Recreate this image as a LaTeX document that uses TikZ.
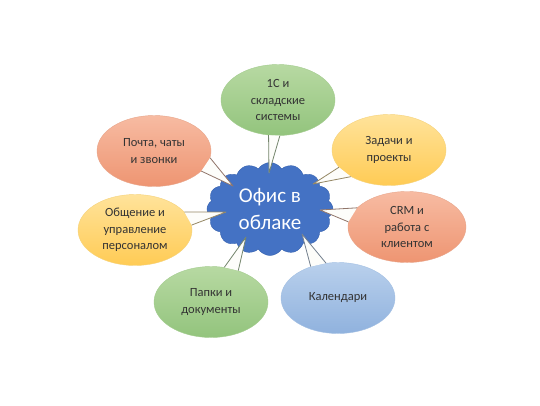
\documentclass[tikz,border=0pt]{standalone}
\usepackage{fontspec}
\setmainfont{Carlito}
\usetikzlibrary{shapes.geometric,shapes.symbols}

\definecolor{salmontop}{HTML}{F7BBA2}
\definecolor{salmonbot}{HTML}{EE9572}
\definecolor{salmonline}{HTML}{E8A58A}
\definecolor{greentop}{HTML}{B7D9A2}
\definecolor{greenbot}{HTML}{93C47D}
\definecolor{greenline}{HTML}{A3CC8E}
\definecolor{yellowtop}{HTML}{FFE39A}
\definecolor{yellowbot}{HTML}{FFCB55}
\definecolor{yellowline}{HTML}{F5D27A}
\definecolor{bluetop}{HTML}{B9D0EC}
\definecolor{bluebot}{HTML}{90B2DE}
\definecolor{blueline}{HTML}{A2BFE3}
\definecolor{cloudblue}{HTML}{4472C4}
\definecolor{cloudline}{HTML}{3460AE}
\definecolor{bubbletext}{HTML}{333333}
\definecolor{pointerfill}{HTML}{FDFDFA}

\begin{document}
\begin{tikzpicture}[x=1pt,y=-1pt,
	bubble/.style={ellipse, minimum width=114pt, minimum height=71pt, inner sep=1pt,
		align=center, text=bubbletext, font=\fontsize{12.5}{16.5}\selectfont, line width=0.4pt},
	salmon/.style={bubble, top color=salmontop, bottom color=salmonbot, draw=salmonline},
	green/.style={bubble, top color=greentop, bottom color=greenbot, draw=greenline},
	yellow/.style={bubble, top color=yellowtop, bottom color=yellowbot, draw=yellowline},
	blue/.style={bubble, top color=bluetop, bottom color=bluebot, draw=blueline}]

	\fill[white] (0,0) rectangle (540,405);
	\useasboundingbox (0,0) rectangle (540,405);

	% cloud in the middle
	\node[cloud, cloud puffs=16, cloud puff arc=115, aspect=1.35, inner sep=0pt,
		minimum width=126pt, minimum height=93pt, fill=cloudblue, draw=cloudline,
		text=white, align=center, font=\fontsize{21}{27}\selectfont] (office) at (270,209) {Офис в\\облаке};

	% callouts
	\node[green]  (sys)   at (278,100) {1С и\\складские\\системы};
	\node[salmon] (mail)  at (154,151) {Почта, чаты\\и звонки};
	\node[yellow] (tasks) at (389,150) {Задачи и\\проекты};
	\node[yellow] (staff) at (135,230) {Общение и\\управление\\персоналом};
	\node[salmon, minimum width=118pt] (crm) at (407,227) {CRM и\\работа с\\клиентом};
	\node[green]  (docs)  at (211,302) {Папки и\\документы};
	\node[blue]   (cal)   at (338,298) {Календари};

	% tips of the pointers
	\coordinate (tsys)   at (269,173);
	\coordinate (tmail)  at (233,186);
	\coordinate (ttasks) at (313,184);
	\coordinate (tstaff) at (226,212);
	\coordinate (tcrm)   at (320,210);
	\coordinate (tdocs)  at (246,237);
	\coordinate (tcal)   at (302,234);

	\foreach \b/\a/\c/\t/\col in {sys/-105/-87/tsys/greenline, mail/-7/-23/tmail/salmonline,
			tasks/-161/-145/ttasks/yellowline, staff/5/20/tstaff/yellowline,
			crm/159/175/tcrm/salmonline, docs/49/69/tdocs/greenline, cal/109/131/tcal/blueline}{
		\fill[pointerfill] (\b.\a) -- (\t) -- (\b.\c) -- cycle;
		\draw[\col!50!black!80, line width=0.8pt, line join=round] (\b.\a) -- (\t) -- (\b.\c);
	}

\end{tikzpicture}
\end{document}
